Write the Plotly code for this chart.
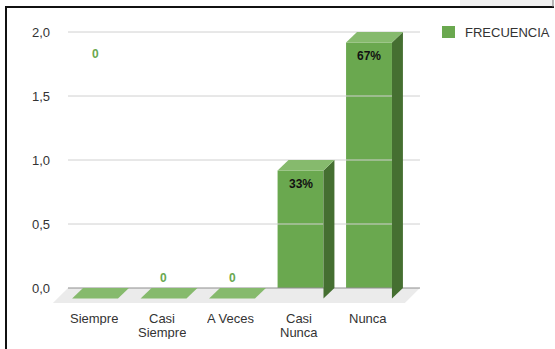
import plotly.graph_objects as go

# Survey answers and their counts
categories = ["Siempre", "Casi Siempre", "A Veces", "Casi Nunca", "Nunca"]
label_lines = [["Siempre"], ["Casi", "Siempre"], ["A Veces"], ["Casi", "Nunca"], ["Nunca"]]
frecuencia = [0, 0, 0, 1, 2]
y_ticks = [0.0, 0.5, 1.0, 1.5, 2.0]
y_tick_text = ["0,0", "0,5", "1,0", "1,5", "2,0"]
series_name = "FRECUENCIA"

# Figure geometry (pixels)
W, H = 555, 349
ML, MR, MT, MB = 51, 124, 25, 44
PW, PH = W - ML - MR, H - MT - MB
X_RANGE = [-0.803, 4.745]
Y_RANGE = [-0.1328, 2.0547]

# 3D look: depth offset of the bar fronts relative to the back wall
DX, DY = 0.16, 0.082
BAR_W = 0.67
FLOOR_DX, FLOOR_DY = 0.22, 0.117
WALL_X = [-0.555, 4.584]

GREEN = "#6aa84f"
GREEN_TOP = "#86ba6d"
GREEN_SIDE = "#456f31"
FONT = "Arial, Liberation Sans, sans-serif"


def px_x(p):
    return (p - ML) / PW


def px_y(p):
    return 1 - (p - MT) / PH


total = sum(frecuencia)
value_text = ["0" if v == 0 else f"{round(100 * v / total)}%" for v in frecuencia]

fig = go.Figure()

# floor
fx0, fx1 = WALL_X
fig.add_trace(go.Scatter(
    x=[fx0, fx1, fx1 - FLOOR_DX, fx0 - FLOOR_DX, fx0],
    y=[0, 0, -FLOOR_DY, -FLOOR_DY, 0],
    fill="toself", fillcolor="#ebebeb", mode="lines", line=dict(width=0),
    hoverinfo="skip", showlegend=False,
))

# back-wall grid lines
for t in y_ticks:
    fig.add_trace(go.Scatter(
        x=WALL_X, y=[t, t], mode="lines",
        line=dict(color="#8e8e8e" if t == 0 else "#d0d0d0", width=1),
        hoverinfo="skip", showlegend=False,
    ))

# bar fronts
front_x = [i - DX for i in range(len(categories))]
fig.add_trace(go.Bar(
    x=front_x, y=frecuencia, base=[-DY] * len(frecuencia), width=BAR_W,
    marker=dict(color=GREEN, line=dict(width=0)), name=series_name,
    showlegend=False, hoverinfo="skip",
))

# bar tops and sides
for i, v in enumerate(frecuencia):
    x0 = front_x[i] - BAR_W / 2
    x1 = front_x[i] + BAR_W / 2
    if v > 0:
        fig.add_trace(go.Scatter(
            x=[x1, x1, x1 + DX, x1 + DX, x1],
            y=[-DY, v - DY, v, 0, -DY],
            fill="toself", fillcolor=GREEN_SIDE, mode="lines", line=dict(width=0),
            hoverinfo="skip", showlegend=False,
        ))
    fig.add_trace(go.Scatter(
        x=[x0, x1, x1 + DX, x0 + DX, x0],
        y=[v - DY, v - DY, v, v, v - DY],
        fill="toself", fillcolor=GREEN_TOP, mode="lines", line=dict(width=0),
        hoverinfo="skip", showlegend=False,
    ))

annotations = []

# value labels
for i, v in enumerate(frecuencia):
    if v > 0:
        annotations.append(dict(
            x=front_x[i], y=v - DY, xref="x", yref="y", text=f"<b>{value_text[i]}</b>",
            showarrow=False, yanchor="middle", yshift=-13,
            font=dict(family=FONT, size=12, color="#111111"),
        ))
    else:
        # the first label sits up at the top of the axis
        ypos = 1.83 if i == 0 else v
        annotations.append(dict(
            x=front_x[i], y=ypos, xref="x", yref="y", text=f"<b>{value_text[i]}</b>",
            showarrow=False, yanchor="middle", yshift=0 if i == 0 else 10,
            font=dict(family=FONT, size=12, color=GREEN),
        ))

# category labels
for i, lines in enumerate(label_lines):
    for k, line in enumerate(lines):
        annotations.append(dict(
            x=front_x[i] - 0.02, y=px_y(318 + 14 * k), xref="x", yref="paper",
            text=line, showarrow=False, yanchor="middle", height=14,
            font=dict(family=FONT, size=13, color="#333333"),
        ))

# legend
annotations.append(dict(
    x=px_x(463), y=px_y(32), xref="paper", yref="paper", text=series_name,
    showarrow=False, xanchor="left", yanchor="middle",
    font=dict(family=FONT, size=13, color="#333333"),
))

shapes = [
    dict(type="rect", xref="paper", yref="paper",
         x0=px_x(442), x1=px_x(455), y0=px_y(26), y1=px_y(38),
         fillcolor=GREEN, line=dict(width=0)),
    # frame
    dict(type="rect", xref="paper", yref="paper",
         x0=px_x(460), x1=px_x(553), y0=px_y(0), y1=px_y(6),
         fillcolor="#f1f1f1", line=dict(width=0)),
    dict(type="line", xref="paper", yref="paper",
         x0=px_x(5), x1=px_x(554), y0=px_y(7), y1=px_y(7),
         line=dict(color="#111111", width=2)),
    dict(type="line", xref="paper", yref="paper",
         x0=px_x(6), x1=px_x(6), y0=px_y(7), y1=px_y(349),
         line=dict(color="#111111", width=2)),
    dict(type="line", xref="paper", yref="paper",
         x0=px_x(553), x1=px_x(553), y0=px_y(0), y1=px_y(7),
         line=dict(color="#777777", width=1)),
]

fig.update_layout(
    width=W, height=H,
    margin=dict(l=ML, r=MR, t=MT, b=MB),
    paper_bgcolor="white", plot_bgcolor="white",
    barmode="overlay",
    showlegend=False,
    xaxis=dict(range=X_RANGE, showgrid=False, zeroline=False, showticklabels=False,
               fixedrange=True),
    yaxis=dict(range=Y_RANGE, showgrid=False, zeroline=False,
               tickvals=y_ticks, ticktext=y_tick_text, ticks="",
               tickfont=dict(family=FONT, size=13, color="#333333"),
               fixedrange=True),
    annotations=annotations,
    shapes=shapes,
)

fig.write_html("out.html")
